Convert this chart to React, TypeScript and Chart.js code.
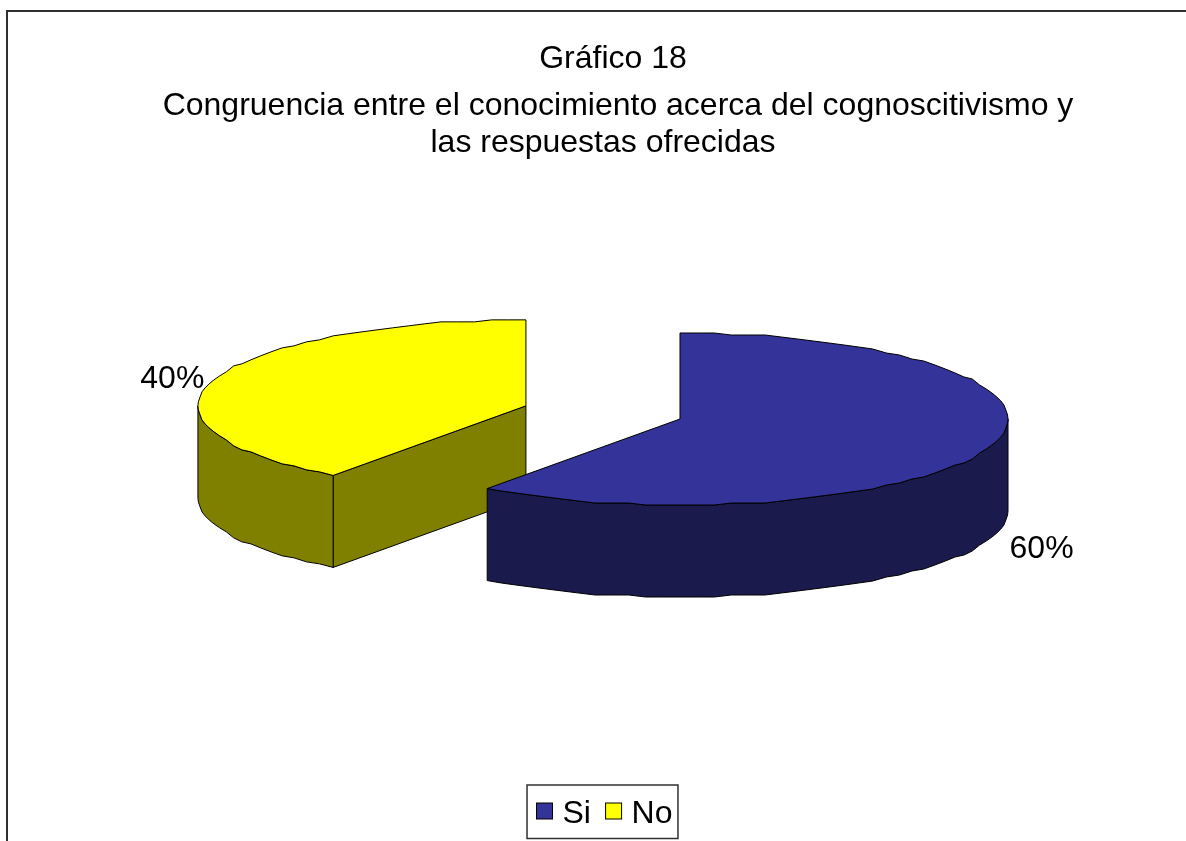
import React, { useEffect, useRef } from "react";
import { Chart, registerables } from "chart.js";

Chart.register(...registerables);

const categories = ["Si", "No"];
const values = [60, 40];
const topColors = ["#333399", "#FFFF00"];
const wallColors = ["#1A1A4D", "#808000"];
const titleText = "Gráfico 18";
const subtitleLines = [
  "Congruencia entre el conocimiento acerca del cognoscitivismo y",
  "las respuestas ofrecidas",
];
const explodePx = [0, 162];

const FONT = "'Liberation Sans', Arial, sans-serif";
const PIE_CX = 680;
const PIE_CY = 419;
const RADIUS = 328;
const SQUASH = 86 / 328;
const DEPTH = 92;
const LABEL_R = 376;
const STEP = Math.PI / 60;
const Y_GRID = 2;
const LEGEND_SHIFT = -9;

function project(arc: any, i: number) {
  const mid = (arc.startAngle + arc.endAngle) / 2;
  const e = explodePx[i];
  const cx = PIE_CX + Math.cos(mid) * e;
  const cy = PIE_CY + Math.sin(mid) * e * SQUASH;
  const r = arc.outerRadius;
  const pt = (a: number, radius = r, d = 0) => [
    cx + Math.cos(a) * radius,
    cy + Math.sin(a) * radius * SQUASH + d,
  ];
  // the rim of the reference is a coarse polygon with stepped heights
  const rim = (a0: number, a1: number) => {
    const pts = [pt(a0)];
    const first = Math.ceil((a0 + 1e-6) / STEP);
    const last = Math.floor((a1 - 1e-6) / STEP);
    for (let k = first; k <= last; k++) {
      const [x, y] = pt(k * STEP);
      pts.push([x, cy + Math.round((y - cy) / Y_GRID) * Y_GRID]);
    }
    pts.push(pt(a1));
    return pts;
  };
  return { mid, cx, cy, r, pt, rim };
}

const pie3d = {
  id: "pie3d",
  afterUpdate(chart: any) {
    const legend = chart.legend;
    legend.left += LEGEND_SHIFT;
    legend.right += LEGEND_SHIFT;
    legend.adjustHitBoxes();
  },
  beforeDraw(chart: any) {
    const { ctx } = chart;
    ctx.save();
    ctx.strokeStyle = "#303030";
    ctx.lineWidth = 2;
    ctx.strokeRect(7, 11, 1400, 1000);
    ctx.restore();
  },
  beforeDatasetsDraw(chart: any) {
    const { ctx } = chart;
    const arcs = chart.getDatasetMeta(0).data as any[];
    const order = arcs
      .map((arc, i) => ({ arc, i, p: project(arc, i) }))
      .sort((a, b) => a.p.cy - b.p.cy);

    ctx.save();
    ctx.lineWidth = 1;
    ctx.strokeStyle = "#000";
    ctx.lineJoin = "round";
    for (const { arc, i, p } of order) {
      const s = arc.startAngle;
      const e = arc.endAngle;
      ctx.fillStyle = wallColors[i];

      const quad = (a: number) => {
        const o1 = p.pt(a);
        ctx.beginPath();
        ctx.moveTo(p.cx, p.cy);
        ctx.lineTo(o1[0], o1[1]);
        ctx.lineTo(o1[0], o1[1] + DEPTH);
        ctx.lineTo(p.cx, p.cy + DEPTH);
        ctx.closePath();
        ctx.fill();
        ctx.stroke();
      };
      if (Math.sin(s - Math.PI / 2) > 1e-6) quad(s);
      if (Math.cos(e) > 1e-6) quad(e);

      const a0 = Math.max(s, 0);
      const a1 = Math.min(e, Math.PI);
      if (a1 > a0) {
        const pts = p.rim(a0, a1);
        ctx.beginPath();
        pts.forEach(([x, y]: number[], k: number) =>
          k === 0 ? ctx.moveTo(x, y) : ctx.lineTo(x, y)
        );
        [...pts].reverse().forEach(([x, y]: number[]) => ctx.lineTo(x, y + DEPTH));
        ctx.closePath();
        ctx.fill();
        ctx.stroke();
      }

      // top face, from the angles of the library's arc element
      ctx.beginPath();
      ctx.moveTo(p.cx, p.cy);
      p.rim(s, e).forEach(([x, y]: number[]) => ctx.lineTo(x, y));
      ctx.closePath();
      ctx.fillStyle = topColors[i];
      ctx.fill();
      ctx.stroke();
    }
    ctx.restore();
    return false;
  },
  afterDraw(chart: any) {
    const { ctx } = chart;
    const arcs = chart.getDatasetMeta(0).data as any[];
    const total = values.reduce((a, b) => a + b, 0);
    ctx.save();
    ctx.fillStyle = "#000";
    ctx.font = `32px ${FONT}`;
    ctx.textAlign = "center";
    ctx.textBaseline = "middle";

    // subtitle lines (each has its own centre in the reference)
    ctx.fillText(subtitleLines[0], 618, 106);
    ctx.fillText(subtitleLines[1], 603, 143);

    arcs.forEach((arc, i) => {
      const p = project(arc, i);
      const [x, y] = p.pt(p.mid, LABEL_R, Math.sin(p.mid) > 0 ? DEPTH + 4 : 0);
      ctx.fillText(`${Math.round((values[i] / total) * 100)}%`, x + 4, y + 4);
    });

    // legend swatches and frame
    const hb = chart.legend.legendHitBoxes;
    hb.forEach((h: any, i: number) => {
      ctx.fillStyle = topColors[i];
      ctx.strokeStyle = "#000";
      ctx.lineWidth = 1;
      ctx.fillRect(h.left + 1, 803, 16, 16);
      ctx.strokeRect(h.left + 1, 803, 16, 16);
    });
    const left = hb[0].left - 8.5;
    const end = hb[hb.length - 1];
    const right = end.left + end.width + 5.5;
    ctx.strokeStyle = "#303030";
    ctx.lineWidth = 1.5;
    ctx.strokeRect(left, 785, right - left, 53.5);
    ctx.restore();
  },
};

export default function App() {
  const ref = useRef<HTMLCanvasElement>(null);
  useEffect(() => {
    document.body.style.margin = "0";
    const chart = new Chart(ref.current!, {
      type: "pie",
      data: {
        labels: categories,
        datasets: [
          {
            data: values,
            backgroundColor: topColors,
            borderWidth: 0,
          },
        ],
      },
      options: {
        responsive: false,
        animation: false,
        radius: RADIUS,
        layout: { padding: { left: 40, top: 41, bottom: 1 } },
        plugins: {
          title: {
            display: true,
            text: titleText,
            color: "#000",
            font: { family: FONT, size: 32, weight: "normal", lineHeight: 1.15 },
            padding: { top: 0, bottom: 10 },
          },
          legend: {
            position: "bottom",
            labels: {
              color: "#000",
              font: { family: FONT, size: 32 },
              boxWidth: 11,
              boxHeight: 16,
              padding: 13.6,
              generateLabels() {
                return categories.map((text, i) => ({
                  text,
                  fillStyle: "rgba(0,0,0,0)",
                  strokeStyle: "rgba(0,0,0,0)",
                  lineWidth: 0,
                  fontColor: "#000",
                  index: i,
                  hidden: false,
                }));
              },
            },
          },
          tooltip: { enabled: false },
        },
      },
      plugins: [pie3d],
    } as any);
    return () => chart.destroy();
  }, []);
  return (
    <canvas
      ref={ref}
      width={1186}
      height={841}
      style={{ display: "block", background: "#fff" }}
    />
  );
}
